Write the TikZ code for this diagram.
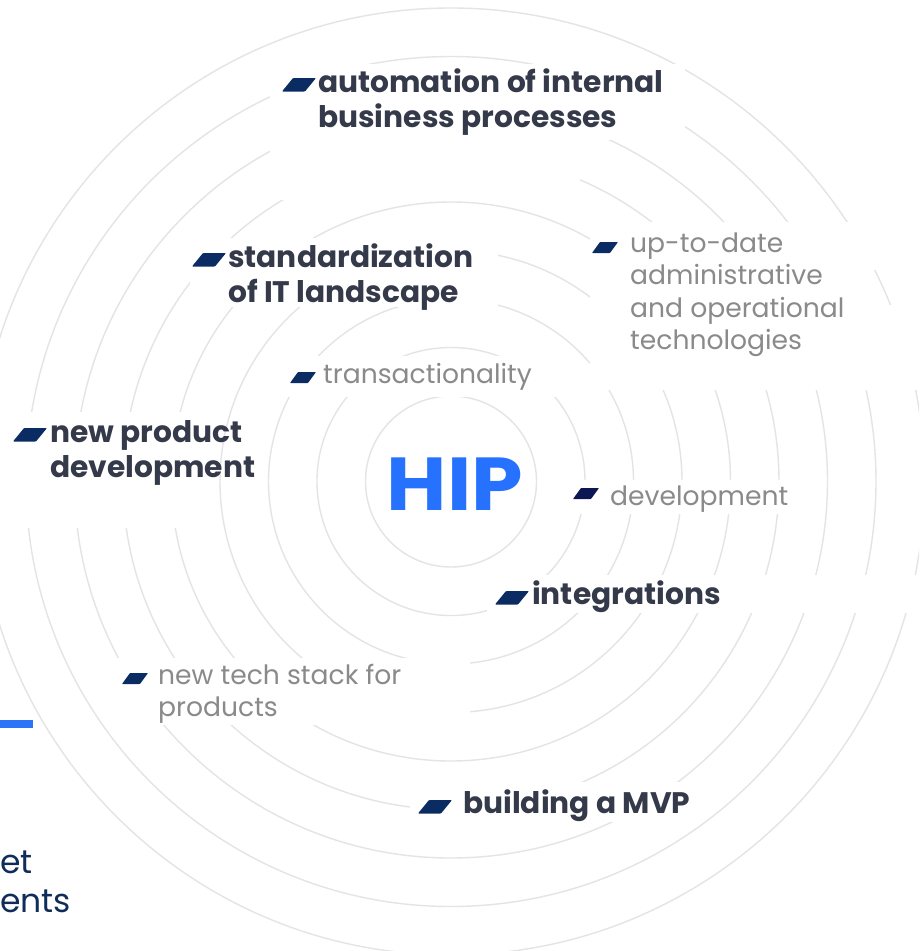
\documentclass[tikz,border=0pt]{standalone}
\usepackage{fontspec}
\setmainfont{Poppins}
\definecolor{ringc}{HTML}{E4E4E4}
\definecolor{darkc}{HTML}{353A4A}
\definecolor{grayc}{HTML}{8A8A8A}
\definecolor{navyc}{HTML}{0B2C62}
\definecolor{navyd}{HTML}{0B1652}
\definecolor{hipblue}{HTML}{2672FF}
\definecolor{barblue}{HTML}{2B74F7}
\definecolor{footc}{HTML}{0F2D58}
\tikzset{
  ring/.style={draw=ringc, line width=1.4pt},
  gap/.style={fill=white, draw=none},
  boldtxt/.style={inner sep=0pt, text=darkc, font=\fontsize{29.7}{35}\selectfont\bfseries},
  graytxt/.style={inner sep=0pt, text=grayc, font=\fontsize{26.6}{32.5}\selectfont},
  foottxt/.style={inner sep=0pt, text=footc, font=\fontsize{33}{39}\selectfont},
  bigbullet/.pic={\fill[navyc, rounded corners=0.8pt] (0,13.5) -- (23,13.5) -- (34,0) -- (11,0) -- cycle;},
  smallbullet/.pic={\fill[navyc, rounded corners=0.6pt] (0,11) -- (18,11) -- (26,0) -- (8,0) -- cycle;},
  smallbulletd/.pic={\fill[navyd, rounded corners=0.6pt] (0,11) -- (18,11) -- (26,0) -- (8,0) -- cycle;}
}
\begin{document}
\begin{tikzpicture}[x=1pt,y=-1pt]
\useasboundingbox (0,0) rectangle (919,951);
\clip (0,0) rectangle (919,951);
\fill[white] (0,0) rectangle (919,951);
% rings
\foreach \k in {0,...,8} \draw[ring] (451,481.5) circle ({85.5+48.5*\k});
% gaps behind the texts
\fill[gap] (270,64) rectangle (685,140);
\fill[gap] (270,140) rectangle (580,200);
\fill[gap] (190,238) rectangle (498,307);
\fill[gap] (283,356) rectangle (556,397);
\fill[gap] (0,412) rectangle (215,528);
\fill[gap] (590,222) rectangle (919,270);
\fill[gap] (590,270) rectangle (870,305);
\fill[gap] (590,305) rectangle (919,390);
\fill[gap] (565,480) rectangle (805,514);
\fill[gap] (487,575) rectangle (919,613);
\fill[gap] (118,658) rectangle (470,725);
\fill[gap] (410,782) rectangle (700,822);
% centre
\node[inner sep=0pt, text=hipblue, font=\fontsize{75}{75}\selectfont\bfseries, anchor=base] (hip) at (455,510) {\scalebox{1.1}[1]{HIP}};
% bullets
\pic at (282,78) {bigbullet};
\pic at (192,253) {bigbullet};
\pic at (13,428) {bigbullet};
\pic at (495,591) {bigbullet};
\pic at (418,800) {bigbullet};
\pic at (290,372) {smallbullet};
\pic at (592,242) {smallbullet};
\pic at (573,488) {smallbulletd};
\pic at (122,673) {smallbullet};
% labels
\node[boldtxt, anchor=base west] (auto) at (318,92) {\begin{tabular}[t]{@{}l@{}}automation of internal\\business processes\end{tabular}};
\node[boldtxt, anchor=base west] (std) at (228,267) {\begin{tabular}[t]{@{}l@{}}standardization\\of IT landscape\end{tabular}};
\node[boldtxt, anchor=base west] (npd) at (50,442) {\begin{tabular}[t]{@{}l@{}}new product\\development\end{tabular}};
\node[boldtxt, anchor=base west] (int) at (532,604) {integrations};
\node[boldtxt, anchor=base west] (mvp) at (463,813) {building a MVP};
\node[graytxt, anchor=base west] (trans) at (323,383) {transactionality};
\node[graytxt, anchor=base west] (upd) at (630,252) {\begin{tabular}[t]{@{}l@{}}up-to-date\\administrative\\and operational\\technologies\end{tabular}};
\node[graytxt, anchor=base west] (dev) at (610,505) {development};
\node[graytxt, anchor=base west] (nts) at (158,684) {\begin{tabular}[t]{@{}l@{}}new tech stack for\\products\end{tabular}};
% left-edge fragments
\fill[barblue] (0,720) rectangle (33,728);
\node[foottxt, anchor=base west] (frag1) at (0,873) {et};
\node[foottxt, anchor=base west] (frag2) at (0,912) {ents};
\end{tikzpicture}
\end{document}
